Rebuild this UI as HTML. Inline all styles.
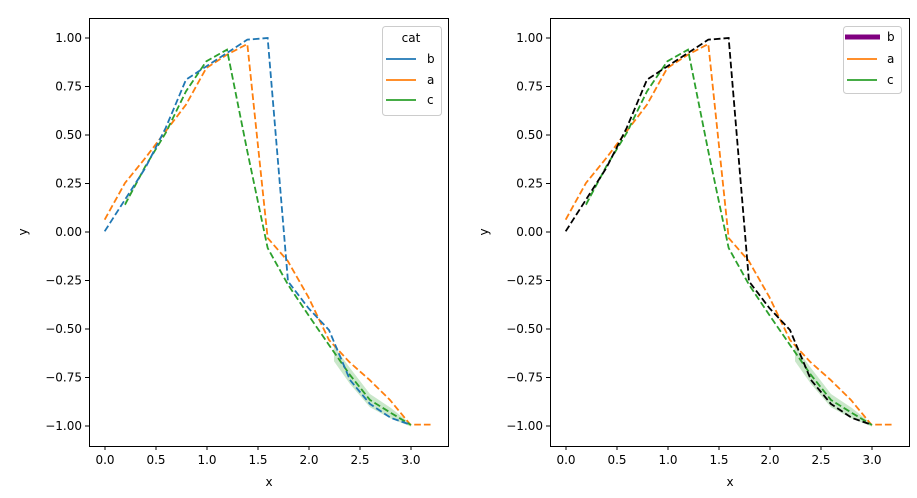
<!DOCTYPE html>
<html><head><style>body{margin:0;background:#fff}svg{display:block;font-family:"DejaVu Sans","Liberation Sans",sans-serif}</style></head><body>
<svg width="917" height="498" xmlns="http://www.w3.org/2000/svg">
<defs>
<g id="data" fill="none" stroke-width="5.4" stroke-dasharray="20,9">
<path d="M735,985 L783,1050 L843,1128 L906,1170 L966,1218 L966,1226 L906,1202 L843,1168 L783,1098 L735,1030Z" fill="#2ca02c" fill-opacity="0.25" stroke="none"/>
<path d="M108,565 L169,450 L200,400 L169,440 L108,550Z" fill="#2ca02c" fill-opacity="0.2" stroke="none"/>
<polyline stroke="#ff7f0e" points="47,605 108,495 169,420 230,340 291,260 352,150 414,110 475,78 536,660 597,730 658,837 720,966 781,1032 842,1086 903,1146 964,1220 1025,1220"/>
<polyline stroke="#2ca02c" points="108,560 169,445 230,345 291,220 352,130 414,95 475,400 536,690 597,800 660,894 720,981 783,1071 843,1146 906,1185 966,1221"/>
</g>
<g id="axes" font-size="12" fill="#000">
<rect x="0.5" y="0.5" width="359" height="428" fill="none" stroke="#000"/>
<g stroke="#000"><line x1="16" y1="428" x2="16" y2="432"/><line x1="67" y1="428" x2="67" y2="432"/><line x1="118" y1="428" x2="118" y2="432"/><line x1="169" y1="428" x2="169" y2="432"/><line x1="220" y1="428" x2="220" y2="432"/><line x1="271" y1="428" x2="271" y2="432"/><line x1="322" y1="428" x2="322" y2="432"/>
<line x1="0" y1="20" x2="-4" y2="20"/><line x1="0" y1="68.5" x2="-4" y2="68.5"/><line x1="0" y1="117" x2="-4" y2="117"/><line x1="0" y1="165.5" x2="-4" y2="165.5"/><line x1="0" y1="214" x2="-4" y2="214"/><line x1="0" y1="262.5" x2="-4" y2="262.5"/><line x1="0" y1="311" x2="-4" y2="311"/><line x1="0" y1="359.5" x2="-4" y2="359.5"/><line x1="0" y1="408" x2="-4" y2="408"/></g>
<g text-anchor="middle"><text x="16" y="446">0.0</text><text x="67" y="446">0.5</text><text x="118" y="446">1.0</text><text x="169" y="446">1.5</text><text x="220" y="446">2.0</text><text x="271" y="446">2.5</text><text x="322" y="446">3.0</text><text x="180" y="468">x</text></g>
<g text-anchor="end"><text x="-7" y="24">1.00</text><text x="-7" y="72.5">0.75</text><text x="-7" y="121">0.50</text><text x="-7" y="169.5">0.25</text><text x="-7" y="218">0.00</text><text x="-7" y="266.5">−0.25</text><text x="-7" y="315">−0.50</text><text x="-7" y="363.5">−0.75</text><text x="-7" y="412">−1.00</text></g>
<text transform="translate(-62,214) rotate(-90)" text-anchor="middle">y</text>
</g>
</defs>
<g transform="translate(89,18)"><use href="#axes"/>
<g transform="scale(0.3333)"><use href="#data"/><polyline fill="none" stroke="#1f77b4" stroke-width="5.4" stroke-dasharray="20,9" points="47,640 108,545 169,450 230,330 291,185 352,145 414,105 475,65 536,60 597,790 658,870 720,936 783,1086 843,1158 906,1200 964,1220"/></g>
<rect x="293.5" y="8.5" width="59" height="89" rx="3" fill="#fff" fill-opacity="0.8" stroke="#ccc"/>
<text x="322" y="24" font-size="12" text-anchor="middle">cat</text>
<line x1="297" y1="41" x2="327" y2="41" stroke="#1f77b4" stroke-width="1.8"/><text x="338" y="45" font-size="12">b</text>
<line x1="297" y1="62" x2="327" y2="62" stroke="#ff7f0e" stroke-width="1.8"/><text x="338" y="66" font-size="12">a</text>
<line x1="297" y1="82" x2="327" y2="82" stroke="#2ca02c" stroke-width="1.8"/><text x="338" y="86" font-size="12">c</text>
</g>
<g transform="translate(550,18)"><use href="#axes"/>
<g transform="scale(0.3333)"><use href="#data"/><polyline fill="none" stroke="#000" stroke-width="5.4" stroke-dasharray="20,9" points="47,640 108,545 169,450 230,330 291,185 352,145 414,105 475,65 536,60 597,790 658,870 720,936 783,1086 843,1158 906,1200 964,1220"/></g>
<rect x="293.5" y="8.5" width="58" height="67" rx="3" fill="#fff" fill-opacity="0.8" stroke="#ccc"/>
<line x1="295" y1="19" x2="330" y2="19" stroke="#800080" stroke-width="5"/><text x="337" y="23" font-size="12">b</text>
<line x1="297" y1="41" x2="327" y2="41" stroke="#ff7f0e" stroke-width="1.8"/><text x="337" y="45" font-size="12">a</text>
<line x1="297" y1="62" x2="327" y2="62" stroke="#2ca02c" stroke-width="1.8"/><text x="337" y="66" font-size="12">c</text>
</g>
</svg>
</body></html>
